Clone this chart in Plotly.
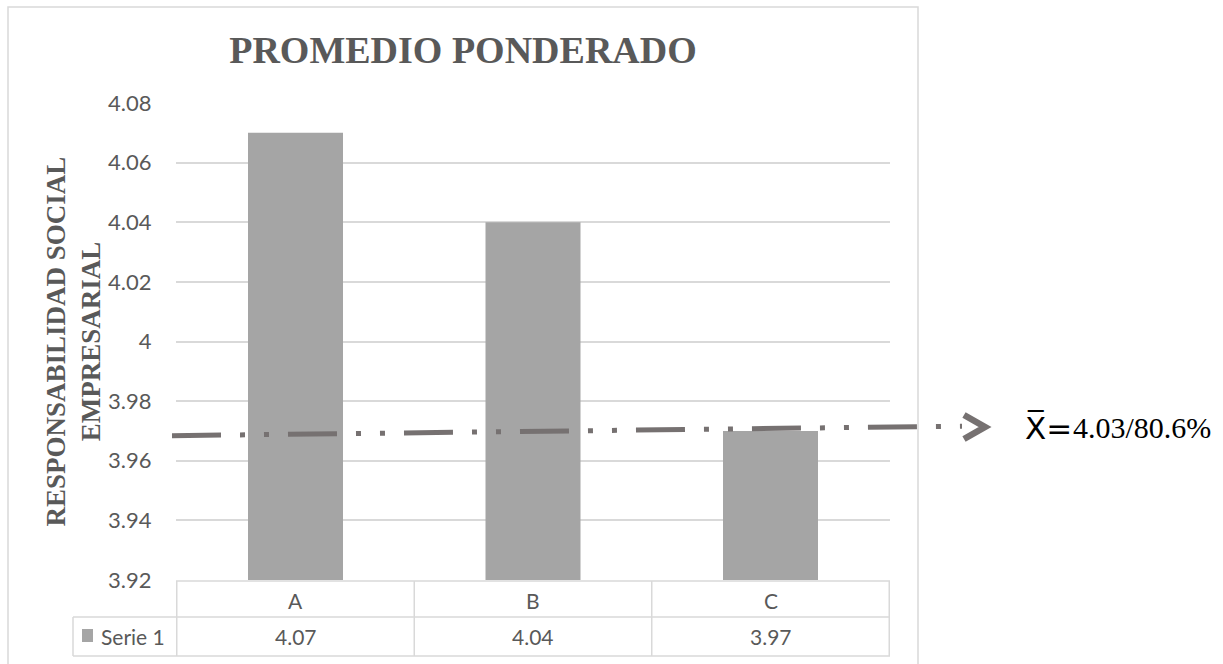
import plotly.graph_objects as go

# ---- data ----
categories = ["A", "B", "C"]
serie1 = [4.07, 4.04, 3.97]
series_name = "Serie 1"
y_tickvals = [3.92, 3.94, 3.96, 3.98, 4.00, 4.02, 4.04, 4.06, 4.08]
y_ticktext = ["3.92", "3.94", "3.96", "3.98", "4", "4.02", "4.04", "4.06", "4.08"]
mean_line_y = [3.9684, 3.9716]
mean_symbol = "X\u0305="
mean_value_text = "4.03/80.6%"
title_text = "PROMEDIO PONDERADO"
ytitle_text = "RESPONSABILIDAD SOCIAL<br>EMPRESARIAL"

# ---- layout geometry (pixels) ----
W, H = 1223, 664
L, R, T, B = 176, 890, 103, 580


def px(x):
    return (x - L) / (R - L)


def py(y):
    return (B - y) / (B - T)


GRID = "#D9D9D9"
TXT = "#595959"
BAR = "#A5A5A5"
LINEC = "#767171"
SANS = "Lato"
SERIF = "Liberation Serif"

fig = go.Figure()
fig.add_trace(go.Bar(x=categories, y=serie1, name=series_name,
                     marker=dict(color=BAR, line=dict(width=0)), width=0.4))

shapes = []
# outer frame
shapes.append(dict(type="rect", xref="paper", yref="paper", x0=px(8), x1=px(918),
                   y0=py(690), y1=py(7), line=dict(color=GRID, width=1.5), layer="below"))
# data table lines
tbl_top, tbl_mid, tbl_bot = py(581), py(617), py(656)
shapes.append(dict(type="line", xref="paper", yref="paper", x0=0, x1=1, y0=tbl_top, y1=tbl_top,
                   line=dict(color=GRID, width=1.5)))
for yy in (tbl_mid, tbl_bot):
    shapes.append(dict(type="line", xref="paper", yref="paper", x0=px(73), x1=1, y0=yy, y1=yy,
                       line=dict(color=GRID, width=1.5)))
shapes.append(dict(type="line", xref="paper", yref="paper", x0=px(73), x1=px(73), y0=tbl_mid, y1=tbl_bot,
                   line=dict(color=GRID, width=1.5)))
for i in range(len(categories) + 1):
    shapes.append(dict(type="line", xref="x", yref="paper", x0=i - 0.5, x1=i - 0.5, y0=tbl_top, y1=tbl_bot,
                       line=dict(color=GRID, width=1.5)))
# legend key square
shapes.append(dict(type="rect", xref="paper", yref="paper", x0=px(82), x1=px(93), y0=py(642), y1=py(629),
                   fillcolor=BAR, line=dict(width=0)))
# mean dash-dot-dot line
shapes.append(dict(type="line", xref="paper", yref="y", x0=px(172), x1=px(962),
                   y0=mean_line_y[0], y1=mean_line_y[1],
                   line=dict(color=LINEC, width=5, dash="49px,19px,5px,19px,5px,19px")))
# chevron arrow head
shapes.append(dict(type="path", xref="paper", yref="paper",
                   path=f"M {px(964)},{py(415)} L {px(985)},{py(427)} L {px(964)},{py(439)}",
                   line=dict(color=LINEC, width=6.5), fillcolor="rgba(0,0,0,0)"))

annotations = []
annotations.append(dict(text=ytitle_text, xref="paper", yref="paper", x=px(73), y=0.5,
                        xanchor="center", yanchor="middle", textangle=-90, showarrow=False,
                        font=dict(family=SERIF, size=27, color=TXT, weight="bold")))
for i, (c, v) in enumerate(zip(categories, serie1)):
    annotations.append(dict(text=c, xref="x", yref="paper", x=i, y=py(600), showarrow=False,
                            xanchor="center", yanchor="middle", font=dict(family=SANS, size=21, color=TXT)))
    annotations.append(dict(text=f"{v:.2f}", xref="x", yref="paper", x=i, y=py(636), showarrow=False,
                            xanchor="center", yanchor="middle", font=dict(family=SANS, size=21, color=TXT)))
annotations.append(dict(text=series_name, xref="paper", yref="paper", x=px(99), y=py(636), showarrow=False,
                        xanchor="left", yanchor="middle", font=dict(family=SANS, size=21, color=TXT)))
annotations.append(dict(text=mean_symbol, xref="paper", yref="paper", x=px(1023), y=py(427), showarrow=False,
                        xanchor="left", yanchor="middle", font=dict(family="DejaVu Sans", size=31, color="#000000")))
annotations.append(dict(text=mean_value_text, xref="paper", yref="paper", x=px(1071), y=py(427), showarrow=False,
                        xanchor="left", yanchor="middle", font=dict(family=SERIF, size=30, color="#000000")))

fig.update_layout(
    width=W, height=H,
    margin=dict(l=L, r=W - R, t=T, b=H - B, pad=0),
    paper_bgcolor="white", plot_bgcolor="white",
    showlegend=False,
    title=dict(text=title_text, xref="container", yref="container", x=463 / W, y=1 - 50 / H,
               xanchor="center", yanchor="middle",
               font=dict(family=SERIF, size=38, color=TXT, weight="bold")),
    xaxis=dict(showticklabels=False, showgrid=False, zeroline=False, showline=False, ticks=""),
    yaxis=dict(range=[3.92, 4.08], tickvals=y_tickvals, ticktext=y_ticktext,
               showgrid=True, gridcolor=GRID, gridwidth=1.5, zeroline=False, showline=False,
               ticks="outside", ticklen=19, tickcolor="rgba(0,0,0,0)",
               tickfont=dict(family=SANS, size=22, color=TXT)),
    shapes=shapes, annotations=annotations,
    bargap=0.6,
)

fig.write_html("out.html")
